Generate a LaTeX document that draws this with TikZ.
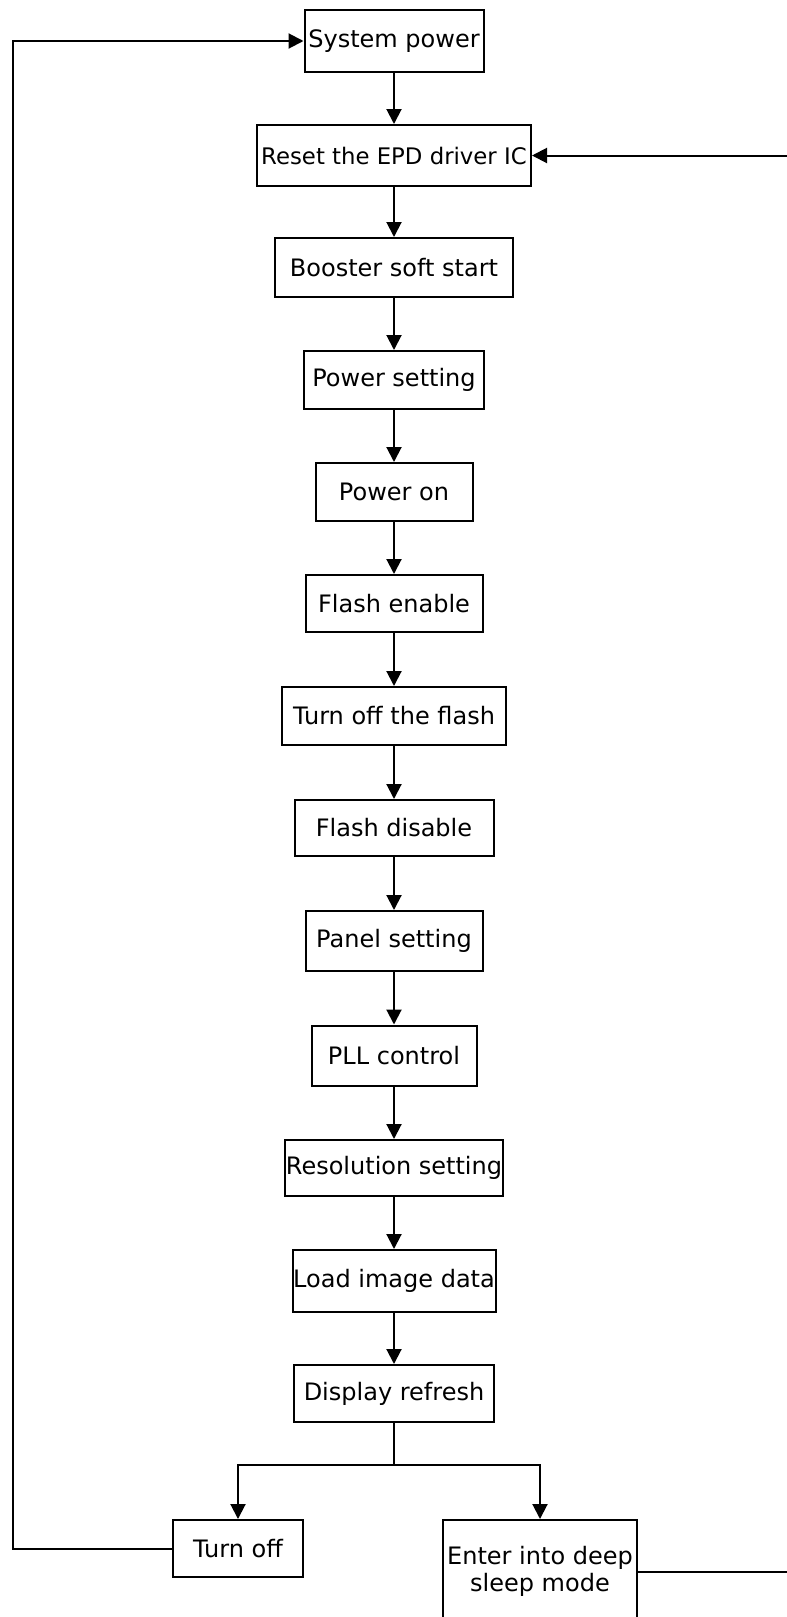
\documentclass[tikz,border=0pt]{standalone}
\usepackage{fontspec}
\setmainfont{DejaVu Sans}
\usetikzlibrary{arrows.meta}
\tikzset{
  stage/.style={draw, line width=1pt, inner sep=0pt, align=center,
    font=\fontsize{12}{13.5}\selectfont},
  flow/.style={line width=1pt, -{Triangle[length=7.5pt,width=7.5pt]}}
}
\begin{document}
\begin{tikzpicture}[x=0.5pt,y=-0.5pt]
    \useasboundingbox (0,0) rectangle (787,1617);
    \clip (0,0) rectangle (787,1617);

    % Main column
    \node[stage, minimum width=89.5pt, minimum height=31pt] (sys) at (394,41) {System power};
    \node[stage, minimum width=137pt, minimum height=30.5pt, font=\fontsize{11.4}{13}\selectfont] (rst) at (394,155.5) {Reset the EPD driver IC};
    \node[stage, minimum width=119pt, minimum height=29.5pt] (boost) at (394,267.5) {Booster soft start};
    \node[stage, minimum width=90pt, minimum height=29pt] (pwrset) at (394,380) {Power setting};
    \node[stage, minimum width=78.5pt, minimum height=29pt] (pwron) at (394,492) {Power on};
    \node[stage, minimum width=88.5pt, minimum height=28.5pt] (flen) at (394,603.5) {Flash enable};
    \node[stage, minimum width=112pt, minimum height=29pt] (floff) at (394,716) {Turn off the flash};
    \node[stage, minimum width=99.5pt, minimum height=28pt] (fldis) at (394,828) {Flash disable};
    \node[stage, minimum width=88.5pt, minimum height=30pt] (panel) at (394,941) {Panel setting};
    \node[stage, minimum width=82.5pt, minimum height=30pt] (pll) at (394,1055.5) {PLL control};
    \node[stage, minimum width=109pt, minimum height=28pt] (res) at (394,1168) {Resolution setting};
    \node[stage, minimum width=101.5pt, minimum height=31pt] (load) at (394,1281) {Load image data};
    \node[stage, minimum width=100pt, minimum height=28.5pt] (disp) at (394,1393.5) {Display refresh};

    % End states
    \node[stage, minimum width=65pt, minimum height=28.5pt] (toff) at (238,1548.5) {Turn off};
    \node[stage, minimum width=97pt, minimum height=51.5pt] (sleep) at (540,1571.5) {Enter into deep\\sleep mode};

    % Straight arrows down the column
    \foreach \a/\b in {sys/rst, rst/boost, boost/pwrset, pwrset/pwron, pwron/flen,
                       flen/floff, floff/fldis, fldis/panel, panel/pll, pll/res,
                       res/load, load/disp}
        \draw[flow] (\a) -- (\b);

    % Split after refresh
    \coordinate (split) at (394,1465);
    \draw[line width=1pt] (disp.south) -- (split);
    \draw[flow] (split) -| (toff.north);
    \draw[flow] (split) -| (sleep.north);

    % Loops back
    \coordinate (lft) at (12.5,0);
    \coordinate (rgt) at (800,0);
    \draw[flow] (toff.west) -- (toff.west -| lft) |- (sys.west);
    \draw[flow] (sleep.east) -- (sleep.east -| rgt) |- (rst.east);
\end{tikzpicture}
\end{document}
